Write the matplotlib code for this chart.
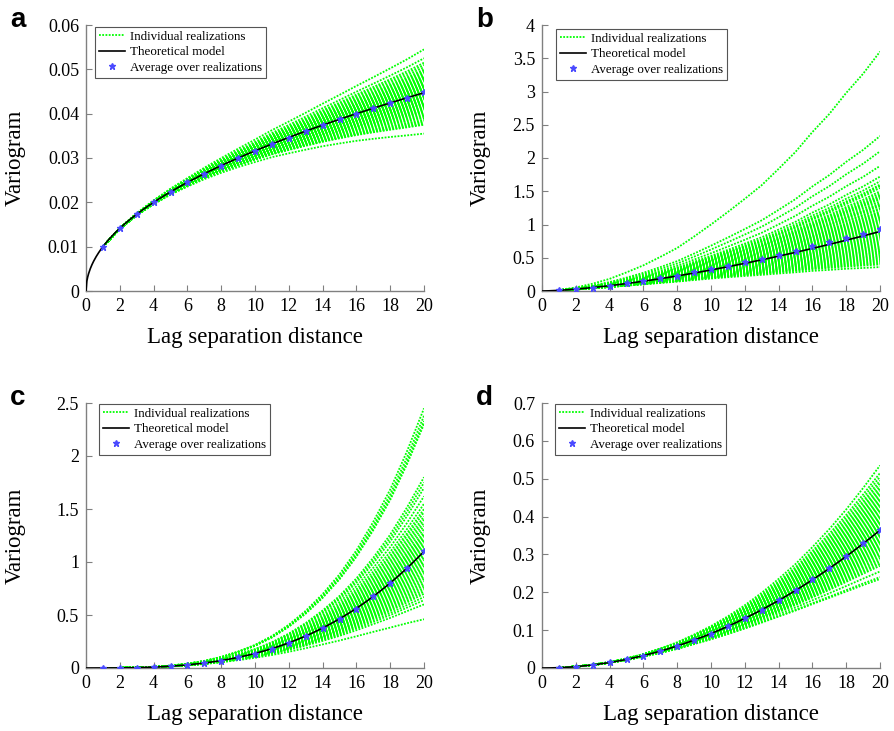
import matplotlib
matplotlib.use("Agg")
import matplotlib.pyplot as plt
import numpy as np
from matplotlib.ticker import FormatStrFormatter

plt.rcParams['font.family'] = ['Liberation Serif', 'DejaVu Serif']

lags = np.arange(1, 21)

# average over realizations (lags 1..20)
avg_a = [0.0100, 0.0141, 0.0173, 0.0200, 0.0224, 0.0245, 0.0265, 0.0283, 0.0300, 0.0316,
         0.0332, 0.0346, 0.0360, 0.0374, 0.0387, 0.0400, 0.0412, 0.0424, 0.0436, 0.0449]
avg_b = [0.010, 0.028, 0.052, 0.080, 0.115, 0.150, 0.190, 0.230, 0.280, 0.330,
         0.380, 0.430, 0.480, 0.540, 0.600, 0.670, 0.730, 0.800, 0.860, 0.930]
avg_c = [0.000, 0.001, 0.004, 0.009, 0.017, 0.030, 0.047, 0.070, 0.100, 0.135,
         0.180, 0.235, 0.300, 0.375, 0.460, 0.560, 0.675, 0.800, 0.945, 1.100]
avg_d = [0.001, 0.0037, 0.0082, 0.0146, 0.0228, 0.033, 0.045, 0.058, 0.074, 0.091,
         0.110, 0.131, 0.154, 0.179, 0.205, 0.234, 0.264, 0.296, 0.330, 0.365]

# theoretical power model (coefficient, exponent)
model_a = (0.01, 0.5)
model_b = (0.01, 1.5)
model_c = (1.375e-4, 3.0)
model_d = (9.1e-4, 2.0)

# end values (lag 20) of the individual realizations
end_a = [0.0545, 0.0525, 0.0515, 0.0510, 0.0505, 0.0500, 0.0497, 0.0494, 0.0491, 0.0488,
         0.0485, 0.0483, 0.0481, 0.0479, 0.0477, 0.0475, 0.0473, 0.0471, 0.0469, 0.0467,
         0.0466, 0.0464, 0.0462, 0.0461, 0.0459, 0.0458, 0.0456, 0.0455, 0.0453, 0.0452,
         0.0450, 0.0449, 0.0447, 0.0446, 0.0445, 0.0443, 0.0442, 0.0440, 0.0439, 0.0437,
         0.0436, 0.0434, 0.0433, 0.0431, 0.0430, 0.0428, 0.0427, 0.0425, 0.0423, 0.0422,
         0.0420, 0.0418, 0.0416, 0.0414, 0.0412, 0.0410, 0.0408, 0.0406, 0.0404, 0.0402,
         0.0399, 0.0396, 0.0393, 0.0390, 0.0386, 0.0383, 0.0380, 0.0377, 0.0375, 0.0355]
end_b = [3.60, 2.33, 2.10, 1.88, 1.72, 1.65, 1.60, 1.58, 1.55, 1.50, 1.47, 1.44, 1.42,
         1.40, 1.38, 1.35, 1.32, 1.30, 1.28, 1.25, 1.23, 1.20, 1.18, 1.16, 1.14, 1.12,
         1.10, 1.08, 1.06, 1.04, 1.02, 1.00, 0.98, 0.96, 0.94, 0.92, 0.90, 0.88, 0.86,
         0.84, 0.82, 0.80, 0.78, 0.76, 0.74, 0.72, 0.70, 0.68, 0.66, 0.64, 0.62, 0.60,
         0.58, 0.56, 0.54, 0.52, 0.50, 0.48, 0.46, 0.44, 0.42, 0.40, 0.36]
end_c = [2.45, 2.38, 2.33, 2.30, 1.80, 1.75, 1.70, 1.62, 1.55, 1.50, 1.47, 1.43, 1.40,
         1.37, 1.34, 1.31, 1.28, 1.26, 1.24, 1.22, 1.20, 1.18, 1.16, 1.14, 1.12, 1.10,
         1.08, 1.06, 1.04, 1.02, 1.00, 0.98, 0.96, 0.94, 0.92, 0.90, 0.88, 0.86, 0.84,
         0.82, 0.80, 0.78, 0.76, 0.74, 0.72, 0.70, 0.67, 0.64, 0.60, 0.46]
end_d = [0.535, 0.515, 0.505, 0.495, 0.488, 0.480, 0.474, 0.468, 0.462, 0.456, 0.450,
         0.445, 0.440, 0.435, 0.430, 0.425, 0.420, 0.415, 0.410, 0.405, 0.400, 0.396,
         0.392, 0.388, 0.384, 0.380, 0.376, 0.372, 0.368, 0.364, 0.360, 0.356, 0.352,
         0.348, 0.344, 0.340, 0.336, 0.332, 0.328, 0.324, 0.320, 0.316, 0.312, 0.308,
         0.304, 0.300, 0.295, 0.290, 0.285, 0.280, 0.275, 0.270, 0.255, 0.240, 0.235]

panels = [
    ('a', avg_a, model_a, end_a, 0.06, 0.01, 1.4),
    ('b', avg_b, model_b, end_b, 4.0, 0.5, 0.5),
    ('c', avg_c, model_c, end_c, 2.5, 0.5, 1.0),
    ('d', avg_d, model_d, end_d, 0.7, 0.1, 1.1),
]

W, H = 894, 731
# axes boxes in pixels: left, top, right, bottom
boxes = [(86, 25, 424, 291), (542, 25, 880, 291),
         (86, 403, 424, 668), (542, 403, 880, 668)]
letter_pos = [(10, 27), (476, 27), (10, 405), (476, 405)]
ylab_off = [60, 51, 60, 51]
leg_off = [(9, 2), (14, 4), (13, 1), (13, 1)]

fig = plt.figure(figsize=(W / 100, H / 100), dpi=100, facecolor='white')
green = '#00ff00'

for i, (name, avg, model, ends, ymax, ystep, grow) in enumerate(panels):
    l, t, r, b = boxes[i]
    ax = fig.add_axes([l / W, 1 - b / H, (r - l) / W, (b - t) / H])
    avg = np.array(avg)
    w = (lags / 20.0) ** grow
    for k, e in enumerate(ends):
        d = e / avg[-1] - 1
        ax.plot(lags, avg * (1 + d * w), color=green, lw=1.3, ls=(0, (1, 0.8)),
                label='Individual realizations' if k == 0 else None, zorder=2)
    hh = np.linspace(0, 20, 400)
    ax.plot(hh, model[0] * hh ** model[1], color='black', lw=1.2,
            label='Theoretical model', zorder=3)
    ax.plot(lags, avg, ls='none', marker='*', ms=5, color='#4a4aff',
            mec='#4a4aff', label='Average over realizations', zorder=4)

    ax.set_xlim(0, 20)
    ax.set_ylim(0, ymax)
    ax.set_xticks(np.arange(0, 21, 2))
    ax.set_yticks(np.arange(0, ymax + ystep / 2, ystep))
    ax.yaxis.set_major_formatter(FormatStrFormatter('%g'))
    for s in ['top', 'right']:
        ax.spines[s].set_visible(False)
    for s in ['left', 'bottom']:
        ax.spines[s].set_color('#808080')
        ax.spines[s].set_linewidth(1.0)
    ax.tick_params(direction='in', length=4, color='#808080', labelsize=13, pad=5)

    ax.set_xlabel('Lag separation distance', fontsize=16.5)
    ax.xaxis.set_label_coords(0.5, -0.135)
    ax.set_ylabel('Variogram', fontsize=16.5)
    ax.yaxis.set_label_coords(-ylab_off[i] / (r - l), 0.5)

    ox, oy = leg_off[i]
    leg = ax.legend(loc='upper left', bbox_to_anchor=(ox / (r - l), 1 - oy / (b - t)),
                    borderaxespad=0, fontsize=9.4, frameon=True, fancybox=False,
                    framealpha=1, edgecolor='#555555', handlelength=2.0,
                    handletextpad=0.4, labelspacing=0.25, borderpad=0.3)
    leg.get_frame().set_linewidth(0.8)

    lx, ly = letter_pos[i]
    fig.text(lx / W, 1 - ly / H, name, fontsize=20, fontweight='bold',
             family='Liberation Sans', va='baseline', ha='left')

fig.savefig('out.png', dpi=100, facecolor='white')
